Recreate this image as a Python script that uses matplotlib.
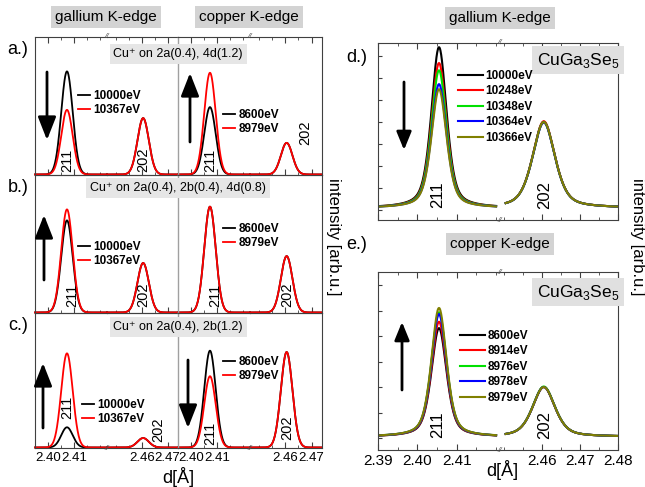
import numpy as np
import matplotlib.pyplot as plt
from matplotlib.patches import FancyArrowPatch
from matplotlib.ticker import FixedLocator, MultipleLocator, FormatStrFormatter, NullLocator

narrow = ['Liberation Sans Narrow', 'Liberation Sans', 'DejaVu Sans']
plain = ['Liberation Sans', 'DejaVu Sans']
plt.rcParams['font.family'] = narrow
plt.rcParams['mathtext.fontset'] = 'custom'
plt.rcParams['mathtext.rm'] = 'Liberation Sans'

# ---------------- data ----------------
# left column: simulated reflections, heights as fraction of the panel height
row_tags = ['a.)', 'b.)', 'c.)']
site_text = ['Cu\u207a on 2a(0.4), 4d(1.2)',
             'Cu\u207a on 2a(0.4), 2b(0.4), 4d(0.8)',
             'Cu\u207a on 2a(0.4), 2b(1.2)']
ga_energies = ['10000eV', '10367eV']
cu_energies = ['8600eV', '8979eV']
# [off-edge, at-edge] per row
ga_211 = [[0.75, 0.47], [0.67, 0.75], [0.15, 0.70]]
ga_202 = [[0.41, 0.41], [0.36, 0.36], [0.07, 0.07]]
cu_211 = [[0.49, 0.74], [0.77, 0.77], [0.72, 0.53]]
cu_202 = [[0.23, 0.23], [0.41, 0.41], [0.71, 0.71]]
sim_pos = [2.4073, 2.4605]   # 211, 202
sim_sigma = 0.0022

# right column: measured CuGa3Se5 profiles
d_energies = ['10000eV', '10248eV', '10348eV', '10364eV', '10366eV']
d_211 = [7.41, 6.69, 6.36, 5.73, 5.50]
d_202 = [4.02, 4.04, 4.00, 3.98, 4.00]
e_energies = ['8600eV', '8914eV', '8976eV', '8978eV', '8979eV']
e_211 = [4.31, 4.56, 4.93, 4.86, 5.10]
e_202 = [2.00, 2.00, 2.02, 2.00, 2.00]
meas_pos = [2.4055, 2.4605]
meas_fwhm = [0.0046, 0.0070]
meas_bg = [0.10, 0.05]
meas_colors = ['black', '#ff0000', '#00e000', '#0000ff', '#808000']

W, H = 645, 487
fig = plt.figure(figsize=(W / 100, H / 100), dpi=100)


def px_rect(x0, x1, y0, y1):
    return [x0 / W, 1 - y1 / H, (x1 - x0) / W, (y1 - y0) / H]


def fxy(x, y):
    return x / W, 1 - y / H


def gauss(x, pos, h):
    return h * np.exp(-0.5 * ((x - pos) / sim_sigma) ** 2)


def pvoigt(x, pos, h, fwhm, eta=0.5):
    u = (x - pos) / (fwhm / 2)
    return h * (eta / (1 + u ** 2) + (1 - eta) * np.exp(-np.log(2) * u ** 2))


def arrow(x, y0, y1, hl=1.4, hw=0.55):
    fig.add_artist(FancyArrowPatch(fxy(x, y0), fxy(x, y1), transform=fig.transFigure,
                                   arrowstyle='-|>,head_length=%g,head_width=%g' % (hl, hw),
                                   mutation_scale=10, lw=2, color='k',
                                   shrinkA=0, shrinkB=0))


def brk(x, y):
    fig.text(*fxy(x, y), '//', fontsize=6, color='#555555', ha='center', va='center',
             family=plain, style='italic')


frame_col = '#404040'
leg_font = {'size': 8.5, 'weight': 'bold'}

# ---------------- left column ----------------
left_x = [(35, 107), (107, 178), (178, 250), (250, 322)]
left_y = [(37, 175), (175, 313), (313, 448)]
left_lims = [(2.395, 2.4227), (2.4465, 2.474)]
left_majors = [[2.40, 2.41], [2.46, 2.47]]

for r in range(3):
    for j, (x0, x1) in enumerate(left_x):
        ax = fig.add_axes(px_rect(x0, x1, *left_y[r]))
        ax.set_facecolor('none')
        seg = j % 2
        edge = j // 2
        ax.set_xlim(*left_lims[seg])
        ax.set_ylim(-0.004, 1)
        x = np.linspace(*left_lims[seg], 400)
        heights = (ga_211, ga_202, cu_211, cu_202)[j][r]
        lines = []
        for k, col in enumerate(['black', '#ff0000']):
            ln, = ax.plot(x, gauss(x, sim_pos[seg], heights[k]), color=col, lw=1.3,
                          clip_on=False)
            lines.append(ln)
        for s in ax.spines.values():
            s.set_color(frame_col)
            s.set_linewidth(0.8)
        if seg == 0:
            ax.spines['right'].set_visible(False)
            if edge == 1:
                ax.spines['left'].set_color('#a0a0a0')
                ax.spines['left'].set_linewidth(1.0)
        else:
            ax.spines['left'].set_visible(False)
            if edge == 0:
                ax.spines['right'].set_visible(False)
        ax.yaxis.set_major_locator(NullLocator())
        ax.xaxis.set_major_locator(FixedLocator(left_majors[seg]))
        ax.xaxis.set_minor_locator(MultipleLocator(0.005))
        ax.xaxis.set_major_formatter(FormatStrFormatter('%.2f'))
        ax.tick_params(axis='x', which='both', direction='in', top=(r == 0),
                       labelbottom=(r == 2), labelsize=9.5, pad=3, color=frame_col)
        ax.tick_params(axis='x', which='major', length=4)
        ax.tick_params(axis='x', which='minor', length=2)
        if j == 0:
            ga_lines = lines
        if j == 2:
            cu_lines = lines

    ga_anchor = [(78, 90), (78, 241), (82, 399)][r]
    cu_anchor = [(223, 109), (223, 223), (223, 356)][r]
    for lines, labels, anchor in ((ga_lines, ga_energies, ga_anchor),
                                  (cu_lines, cu_energies, cu_anchor)):
        fig.legend(lines, labels, loc='upper left', bbox_to_anchor=fxy(*anchor),
                   frameon=False, prop=leg_font, handlelength=1.05, handletextpad=0.25,
                   labelspacing=0.18, borderpad=0, borderaxespad=0)

    fig.text(18 / W, fxy(0, [50, 187, 325][r])[1], row_tags[r], fontsize=13,
             family=plain, ha='center', va='center')
    fig.text(*fxy(178, [54, 188, 327][r]), site_text[r], fontsize=9, family=plain,
             ha='center', va='center',
             bbox=dict(boxstyle='square,pad=0.3', facecolor='#e6e6e6', edgecolor='none'))

for bx in (107, 250):
    brk(bx, 37)
    brk(bx, 448)

# peak labels (left)
peak_lbl = [[(67, 160, '211'), (143, 160, '202'), (210, 160, '211'), (305, 133, '202')],
            [(72, 295, '211'), (143, 295, '202'), (215, 295, '211'), (287, 295, '202')],
            [(67, 407, '211'), (158, 430, '202'), (210, 433, '211'), (287, 428, '202')]]
for row in peak_lbl:
    for px, py, t in row:
        fig.text(*fxy(px, py), t, rotation=90, fontsize=10.5, ha='center', va='center')

arrow(47, 72, 140)
arrow(190, 142, 73)
arrow(44, 280, 215)
arrow(43, 428, 363)
arrow(188, 360, 428)

fig.text(*fxy(106, 17), 'gallium K-edge', fontsize=11, family=plain, ha='center', va='center',
         bbox=dict(boxstyle='square,pad=0.25', facecolor='#d3d3d3', edgecolor='none'))
fig.text(*fxy(249, 17), 'copper K-edge', fontsize=11, family=plain, ha='center', va='center',
         bbox=dict(boxstyle='square,pad=0.25', facecolor='#d3d3d3', edgecolor='none'))
fig.text(*fxy(178, 477), 'd[Å]', fontsize=13, ha='center', va='center')
fig.text(*fxy(333, 237), 'intensity [arb.u.]', fontsize=12, family=plain, rotation=-90,
         ha='center', va='center')

# ---------------- right column ----------------
right_x = [(378, 500), (500, 618)]
right_y = [(43, 220), (272, 450)]
right_lims = [(2.39, 2.421), (2.449, 2.48)]
right_majors = [[2.39, 2.40, 2.41], [2.46, 2.47, 2.48]]
right_ylims = [(-0.45, 7.6), (-0.47, 6.51)]
panel_sets = [(d_energies, d_211, d_202), (e_energies, e_211, e_202)]
legend_anchor = [(458, 70), (460, 330)]

for p in range(2):
    energies, h211, h202 = panel_sets[p]
    for seg, (x0, x1) in enumerate(right_x):
        ax = fig.add_axes(px_rect(x0, x1, *right_y[p]))
        ax.set_facecolor('none')
        ax.set_ylim(*right_ylims[p])
        ax.set_xlim(*right_lims[seg])
        if seg == 0:
            x = np.linspace(2.39, 2.42, 300)
        else:
            x = np.linspace(2.4505, 2.48, 300)
        tops = (h211, h202)[seg]
        lines = []
        for k, col in enumerate(meas_colors):
            y = meas_bg[p] + pvoigt(x, meas_pos[seg], tops[k] - meas_bg[p], meas_fwhm[seg])
            ln, = ax.plot(x, y, color=col, lw=1.5)
            lines.append(ln)
        for s in ax.spines.values():
            s.set_color(frame_col)
            s.set_linewidth(0.8)
        if seg == 0:
            ax.spines['right'].set_visible(False)
            ax.yaxis.set_major_locator(MultipleLocator(1))
            ax.tick_params(axis='y', direction='in', length=3, labelleft=False,
                           color=frame_col)
            seg0_lines = lines
        else:
            ax.spines['left'].set_visible(False)
            ax.yaxis.set_major_locator(NullLocator())
        ax.xaxis.set_major_locator(FixedLocator(right_majors[seg]))
        ax.xaxis.set_minor_locator(MultipleLocator(0.005))
        ax.xaxis.set_major_formatter(FormatStrFormatter('%.2f'))
        ax.tick_params(axis='x', which='both', direction='in', top=True,
                       labelbottom=(p == 1), labelsize=11, pad=3, color=frame_col)
        ax.tick_params(axis='x', which='major', length=4)
        ax.tick_params(axis='x', which='minor', length=2)

    fig.legend(seg0_lines, energies, loc='upper left',
               bbox_to_anchor=fxy(*legend_anchor[p]), frameon=False, prop=leg_font,
               handlelength=2.1, handletextpad=0.2, labelspacing=0.29,
               borderpad=0, borderaxespad=0)
    brk(500, right_y[p][0])
    brk(500, right_y[p][1])
    yc = [60, 292][p]
    fig.text(*fxy(578, yc), 'CuGa$_\\mathregular{3}$Se$_\\mathregular{5}$', fontsize=12.5,
             family=plain, ha='center', va='center',
             bbox=dict(boxstyle='square,pad=0.25', facecolor='#e0e0e0', edgecolor='none'))
    ly = [195, 425][p]
    fig.text(*fxy(438, ly), '211', rotation=90, fontsize=12, ha='center', va='center')
    fig.text(*fxy(545, ly), '202', rotation=90, fontsize=12, ha='center', va='center')

fig.text(*fxy(357, 58), 'd.)', fontsize=13, family=plain, ha='center', va='center')
fig.text(*fxy(357, 245), 'e.)', fontsize=13, family=plain, ha='center', va='center')
fig.text(*fxy(500, 18), 'gallium K-edge', fontsize=11, family=plain, ha='center', va='center',
         bbox=dict(boxstyle='square,pad=0.25', facecolor='#d3d3d3', edgecolor='none'))
fig.text(*fxy(500, 244), 'copper K-edge', fontsize=11, family=plain, ha='center', va='center',
         bbox=dict(boxstyle='square,pad=0.25', facecolor='#d3d3d3', edgecolor='none'))
fig.text(*fxy(502, 470), 'd[Å]', fontsize=13, ha='center', va='center')
fig.text(*fxy(638, 237), 'intensity [arb.u.]', fontsize=12, family=plain, rotation=-90,
         ha='center', va='center')

arrow(404, 82, 150, hl=1.1, hw=0.45)
arrow(402, 390, 322, hl=1.1, hw=0.45)

fig.savefig('out.png', dpi=100)
